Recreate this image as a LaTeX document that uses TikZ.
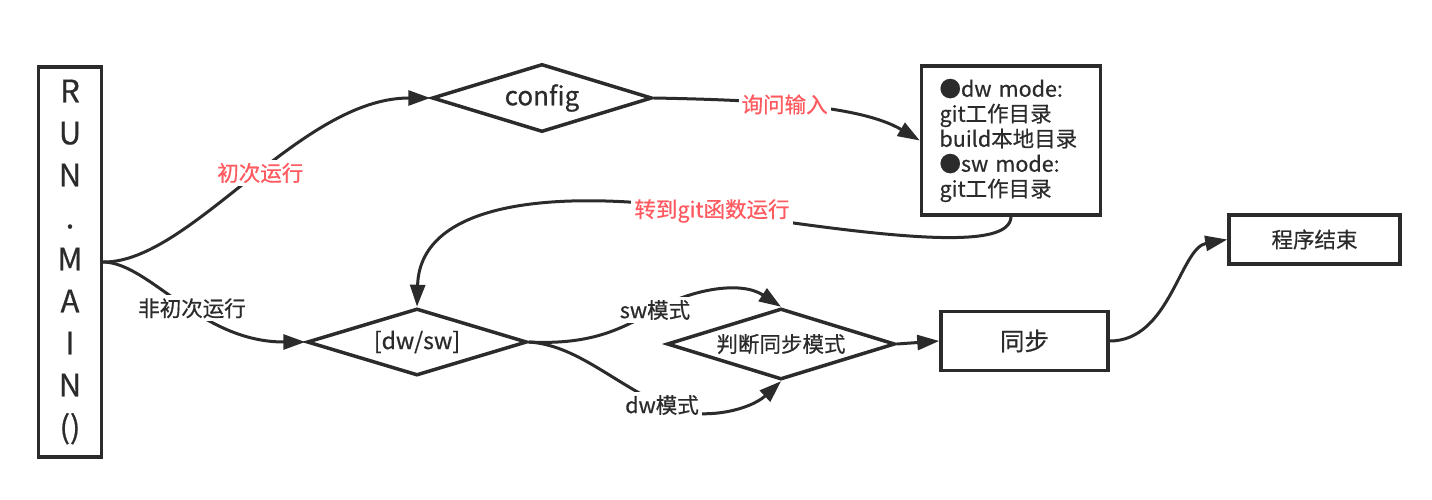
\documentclass[tikz,border=0pt]{standalone}
\usepackage{fontspec}
\setmainfont{Noto Sans CJK SC}[FakeBold=0.6]
\usetikzlibrary{shapes.geometric,arrows.meta}
\definecolor{ink}{HTML}{2B2B2B}
\definecolor{hot}{HTML}{FF5A60}
\begin{document}
\begin{tikzpicture}[x=1pt,y=-1pt,
  box/.style={draw=ink,line width=3.5pt,rectangle,inner sep=0pt,text=ink},
  decision/.style={draw=ink,line width=3.5pt,diamond,aspect=3.2,inner sep=0pt,text=ink},
  link/.style={draw=ink,line width=3pt,-{Triangle[length=22pt,width=15pt]}},
  tag/.style={fill=white,inner sep=3pt,text=ink,font=\fontsize{21.5}{24}\selectfont},
  hottag/.style={tag,text=hot}]
\useasboundingbox (0,0) rectangle (1432,500);

% nodes
\node[box,minimum width=63pt,minimum height=390pt,align=center,
      font=\fontsize{31}{42}\selectfont] (run) at (70,262)
  {R\\U\\N\\.\\M\\A\\I\\N\\()};
\node[decision,minimum width=220pt,minimum height=68pt,
      font=\fontsize{26}{28}\selectfont] (config) at (542,98) {config};
\node[box,minimum width=179pt,minimum height=149pt,text width=143pt,align=left,
      font=\fontsize{21.5}{25}\selectfont] (info) at (1011,140.5)
  {●dw mode:\\git工作目录\\build本地目录\\●sw mode:\\git工作目录};
\node[decision,minimum width=220pt,minimum height=67pt,
      font=\fontsize{23}{26}\selectfont] (mode) at (417,342) {[dw/sw]};
\node[decision,minimum width=228pt,minimum height=71pt,
      font=\fontsize{21.5}{24}\selectfont] (judge) at (781,344) {判断同步模式};
\node[box,minimum width=167pt,minimum height=59pt,
      font=\fontsize{24.5}{28}\selectfont] (sync) at (1024.5,341) {同步};
\node[box,minimum width=171pt,minimum height=49pt,
      font=\fontsize{21.5}{24}\selectfont] (stop) at (1314.5,239.5) {程序结束};

% connectors
\coordinate (fork) at (run.east);
\draw[link] (fork) .. controls (190,263) and (300,98) ..
  node[hottag,pos=0.53] {初次运行} (config.west);
\draw[link] (fork) .. controls (150,263) and (200,342) ..
  node[tag,pos=0.55] {非初次运行} (mode.west);
\draw[link] (config.east) .. controls (760,100) and (860,105) ..
  node[hottag,pos=0.43] {询问输入} (info.west);
\draw[link] (info.south) .. controls (1010,250) and (900,240) ..
  (712,211) node[hottag] {转到git函数运行}
  .. controls (560,188) and (420,200) .. (mode.north);
\draw[link] (mode.east) .. controls (590,345) and (620,330) ..
  (655,310) node[tag] {sw模式}
  .. controls (690,290) and (740,280) .. (judge.north);
\draw[link] (mode.east) .. controls (575,345) and (610,380) ..
  (662,405) node[tag] {dw模式}
  .. controls (700,423) and (750,410) .. (judge.south);
\draw[link] (judge.east) -- (sync.west);
\draw[link] (sync.east) .. controls (1170,341) and (1180,248) .. (stop.west);
\end{tikzpicture}
\end{document}
